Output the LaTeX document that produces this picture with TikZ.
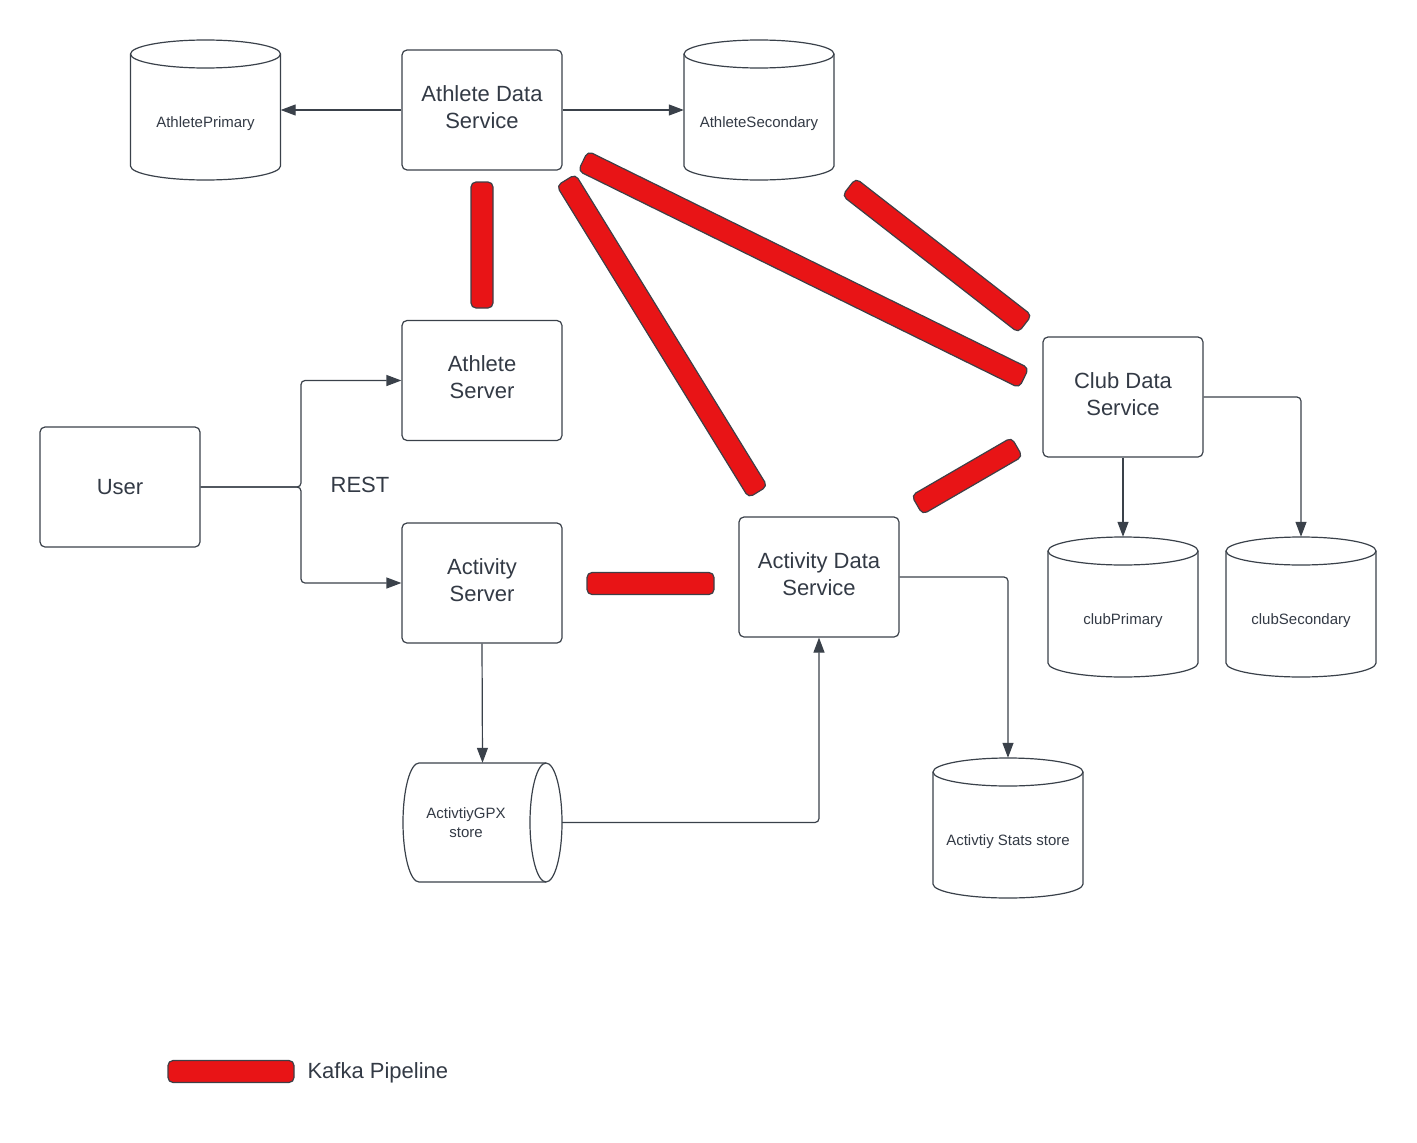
\documentclass[tikz,border=0pt]{standalone}
\usepackage{fontspec}
\setmainfont{Liberation Sans}
\usetikzlibrary{arrows.meta,calc}
\definecolor{linec}{HTML}{3A414A}
\definecolor{textc}{HTML}{333A45}
\definecolor{kred}{HTML}{E81416}
\definecolor{kedge}{HTML}{3F3F46}
\tikzset{
  box/.style={draw=linec, line width=1.2pt, rounded corners=5pt, minimum width=160pt, minimum height=120pt, inner sep=0pt},
  boxtext/.style={align=center, text=textc, font=\fontsize{22}{27}\selectfont, inner sep=0pt},
  conn/.style={draw=linec, line width=1.2pt, rounded corners=4pt, -{Triangle[length=15pt,width=11pt]}},
  kafka/.style={draw=kedge, fill=kred, line width=1.2pt, rounded corners=5pt, minimum height=22pt, inner sep=0pt},
  dblabel/.style={text=textc, font=\fontsize{15}{19}\selectfont, align=center},
  cylline/.style={draw=linec, line width=1.2pt},
  lbl/.style={text=textc, font=\fontsize{22}{27}\selectfont},
}
\newcommand\vcyl[4]{% name, cx, top, label
  \draw[cylline, fill=white] (#2-75,#3+14) -- (#2-75,#3+126)
     arc[start angle=180, end angle=360, x radius=75pt, y radius=14pt]
     -- (#2+75,#3+14)
     arc[start angle=0, end angle=180, x radius=75pt, y radius=14pt] -- cycle;
  \draw[cylline] (#2-75,#3+14) arc[start angle=180, end angle=360, x radius=75pt, y radius=14pt];
  \node[minimum width=150pt, minimum height=140pt, inner sep=0pt] (#1) at (#2,#3+70) {};
  \node[dblabel] (#1-t) at (#2,#3+84) {#4};
}
\newcommand\svcbox[5]{% name, x, y, text shift, text
  \node[box] (#1) at (#2,#3) {};
  \node[boxtext] (#1-t) at (#2,#3+#4) {#5};
}
\newcommand\kbar[2]{%
  \path let \p1=($(#2)-(#1)$), \n1={veclen(\x1,\y1)} in (#1) -- node[kafka, sloped, minimum width=\n1] {} (#2);
}
\begin{document}
\begin{tikzpicture}[x=1pt, y=-1pt]
\useasboundingbox (0,0) rectangle (1417,1143);

% boxes
\svcbox{ads}{482}{110}{-3}{Athlete Data\\Service}
\svcbox{as}{482}{380.5}{-3}{Athlete\\Server}
\svcbox{user}{120}{487}{0}{User}
\svcbox{acs}{482}{583}{-3}{Activity\\Server}
\svcbox{acds}{819}{577}{-3}{Activity Data\\Service}
\svcbox{cds}{1123}{397}{-3}{Club Data\\Service}

% cylinders
\vcyl{ap}{205.5}{40}{AthletePrimary}
\vcyl{asec}{759}{40}{AthleteSecondary}
\vcyl{cp}{1123}{537}{clubPrimary}
\vcyl{cs}{1301}{537}{clubSecondary}
\vcyl{stats}{1008}{758}{Activtiy Stats store}

% horizontal cylinder
\draw[cylline, fill=white] (546,763) -- (419,763)
   arc[start angle=90, end angle=270, x radius=16pt, y radius=59.5pt]
   -- (546,882)
   arc[start angle=-90, end angle=90, x radius=16pt, y radius=59.5pt] -- cycle;
\draw[cylline] (546,763) arc[start angle=90, end angle=270, x radius=16pt, y radius=59.5pt];
\node[minimum width=159pt, minimum height=119pt, inner sep=0pt] (gpx) at (482.5,822.5) {};
\node[dblabel] (gpx-t) at (466,823) {ActivtiyGPX\\store};

% connectors
\draw[conn] (ads.west) -- (ap.east);
\draw[conn] (ads.east) -- (asec.west);
\coordinate (split) at (301,487);
\draw[conn] (user.east) -- (split) |- (as.west);
\draw[conn] (user.east) -- (split) |- (acs.west);
\node[lbl] (rest) at (360,485) {REST};
\draw[conn] (acs.south) -- (gpx.north);
\draw[conn] (gpx.east) -| (acds.south);
\draw[conn] (acds.east) -| (stats.north);
\draw[conn] (cds.south) -- (cp.north);
\draw[conn] (cds.east) -| (cs.north);

% kafka pipelines
\kbar{482,182}{482,308}
\kbar{566,180}{758,492}
\kbar{583,161}{1024,378}
\kbar{849,187}{1025,324}
\kbar{917,505}{1017,447}
\kbar{587,583.5}{714,583.5}

% legend
\kbar{168,1071.5}{294,1071.5}
\node[lbl, anchor=west] (legend) at (304,1073) {Kafka Pipeline};
\end{tikzpicture}
\end{document}
